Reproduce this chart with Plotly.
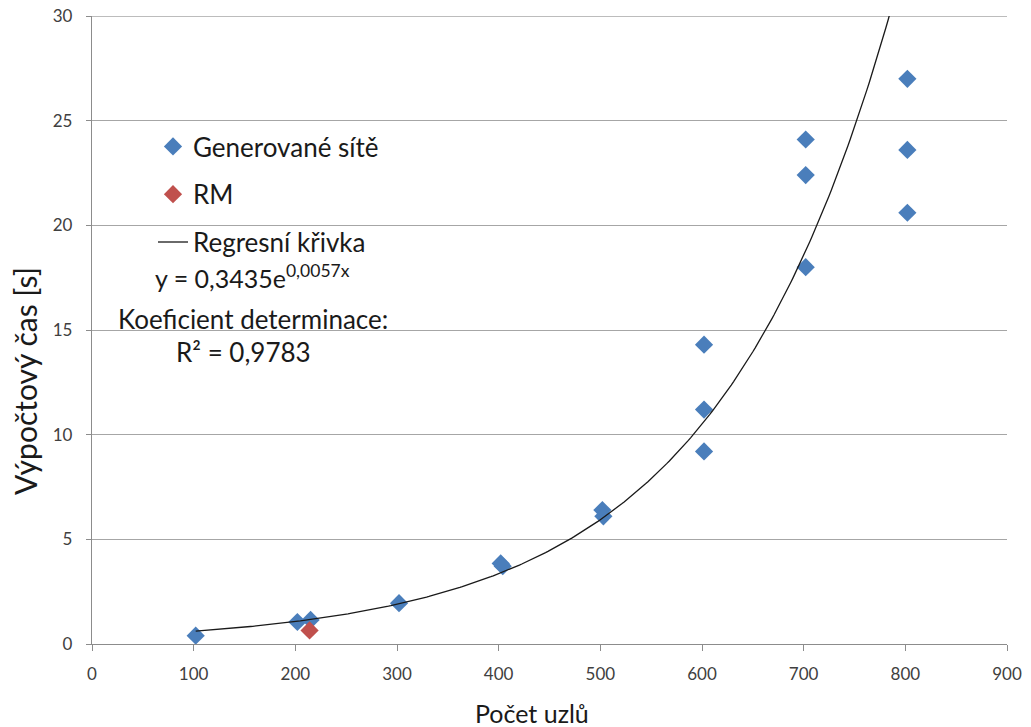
import numpy as np
import plotly.graph_objects as go

# Data
gen_x = [102, 202, 215, 302, 402, 404, 502, 503, 602, 602, 602, 702, 702, 702, 802, 802, 802]
gen_y = [0.40, 1.05, 1.15, 1.95, 3.85, 3.72, 6.40, 6.10, 14.3, 11.2, 9.2, 24.1, 22.4, 18.0, 27.0, 23.6, 20.6]
rm_x = [214]
rm_y = [0.65]

# Regression curve as stated on the chart: y = 0.3435 * e^(0.0057 x)
reg_a = 0.3435
reg_b = 0.0057
reg_x = np.linspace(min(gen_x), max(gen_x), 300)
reg_y = reg_a * np.exp(reg_b * reg_x)

x_ticks = [0, 100, 200, 300, 400, 500, 600, 700, 800, 900]
y_ticks = [0, 5, 10, 15, 20, 25, 30]

FONT = "Lato"
TXT = "#1a1a1a"
TICK = "#404040"

# the page body margin is removed (post_script), so the figure fills the window
W, H = 1031, 727
PL, PR, PT, PB = 92, 24, 16, 83   # plot area: screen x 92..1007, y 16..644
PW = W - PL - PR
PH = H - PT - PB


def px(sx):
    return (sx - PL) / PW


def py(sy):
    return (H - PB - sy) / PH


fig = go.Figure()
fig.add_trace(go.Scatter(
    x=gen_x, y=gen_y, mode="markers", name="Generované sítě",
    legendgroup="a",
    marker=dict(symbol="diamond", size=14, color="#4A7EBB", line=dict(width=0)),
))
fig.add_trace(go.Scatter(
    x=rm_x, y=rm_y, mode="markers", name="RM",
    legendgroup="b",
    marker=dict(symbol="diamond", size=14, color="#C0504D", line=dict(width=0)),
))
fig.add_trace(go.Scatter(
    x=reg_x, y=reg_y, mode="lines", name="Regresní křivka",
    legendgroup="c",
    line=dict(color="#1a1a1a", width=1.3),
))

ann_font = dict(size=25, family=FONT, color=TXT)

fig.update_layout(
    width=W, height=H,
    margin=dict(l=PL, r=PR, t=PT, b=PB, autoexpand=False),
    paper_bgcolor="white", plot_bgcolor="white",
    font=dict(family=FONT, color=TXT),
    showlegend=True,
    legend=dict(
        x=px(153), y=py(123), xanchor="left", yanchor="top",
        bgcolor="rgba(0,0,0,0)", font=dict(size=26, family=FONT, color=TXT),
        tracegroupgap=11,
    ),
    xaxis=dict(
        range=[0, 900], tickvals=x_ticks, showgrid=False, zeroline=False,
        showline=True, linecolor="#8c8c8c", linewidth=1.3,
        ticks="outside", ticklen=6, tickcolor="#8c8c8c", tickwidth=1.3,
        tickfont=dict(size=17, color=TICK, family=FONT),
        ticklabelstandoff=8, ticklabeloverflow="allow", automargin=False,
    ),
    yaxis=dict(
        range=[0, 30], tickvals=y_ticks, showgrid=True, gridcolor="#a6a6a6", gridwidth=1.3,
        zeroline=False, showline=True, linecolor="#8c8c8c", linewidth=1.3,
        ticks="outside", ticklen=5, tickcolor="#8c8c8c", tickwidth=1.3,
        tickfont=dict(size=17, color=TICK, family=FONT),
        ticklabelstandoff=10, ticklabeloverflow="allow", automargin=False,
    ),
    annotations=[
        dict(text="Výpočtový čas [s]", xref="paper", yref="paper", x=px(25), y=py(381),
             xanchor="center", yanchor="middle", textangle=-90, showarrow=False,
             font=dict(size=30, family=FONT, color=TXT)),
        dict(text="Počet uzlů", xref="paper", yref="paper", x=px(532), y=py(713),
             xanchor="center", yanchor="middle", showarrow=False,
             font=dict(size=25, family=FONT, color=TXT)),
        dict(text="y = 0,3435e<sup>0,0057x</sup>", xref="paper", yref="paper",
             x=px(252), y=py(276), xanchor="center", yanchor="middle", showarrow=False,
             font=ann_font),
        dict(text="Koeficient determinace:", xref="paper", yref="paper",
             x=px(253), y=py(319), xanchor="center", yanchor="middle", showarrow=False,
             font=dict(size=26, family=FONT, color=TXT)),
        dict(text="R² = 0,9783", xref="paper", yref="paper",
             x=px(243), y=py(352), xanchor="center", yanchor="middle", showarrow=False,
             font=dict(size=26, family=FONT, color=TXT)),
    ],
)

# top gridline at y=30 (range edge) drawn as a shape so it is not dropped
fig.add_shape(type="line", xref="paper", yref="y", x0=0, x1=1, y0=max(y_ticks), y1=max(y_ticks),
              line=dict(color="#a6a6a6", width=1.3), layer="below")

fig.write_html(
    "out.html",
    config={"displayModeBar": False},
    post_script="document.body.style.margin='0';document.body.style.overflow='hidden';",
)
